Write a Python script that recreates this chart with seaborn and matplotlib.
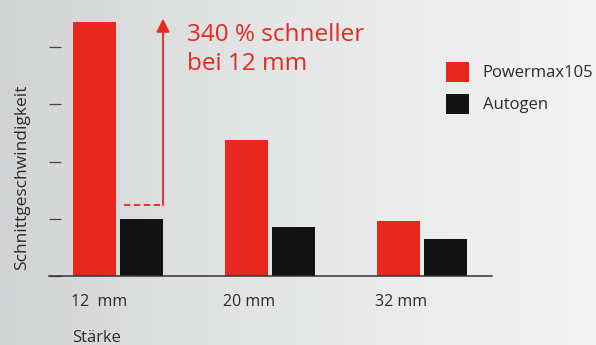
import numpy as np
import pandas as pd
import matplotlib
matplotlib.use("Agg")
import matplotlib.pyplot as plt
import seaborn as sns

# ---- data ----
thickness = ["12  mm", "20 mm", "32 mm"]
series_names = ["Powermax105", "Autogen"]
powermax = [4.45, 2.37, 0.955]
autogen = [1.0, 0.85, 0.645]
y_ticks = [0, 1, 2, 3, 4]
annotation = "340 % schneller\nbei 12 mm"

RED = "#e8271f"
BLACK = "#121212"
TXT = "#2b2b2b"

sns.set_theme(style="white")
plt.rcParams["font.family"] = ["Open Sans", "DejaVu Sans"]

df = pd.DataFrame({
    "Stärke": thickness * 2,
    "Wert": powermax + autogen,
    "Verfahren": [series_names[0]] * 3 + [series_names[1]] * 3,
})

fig = plt.figure(figsize=(5.96, 3.45), dpi=100)

# gradient background
bg = fig.add_axes([0, 0, 1, 1], zorder=0)
grad = np.linspace(0, 1, 256)[None, :]
cmap = matplotlib.colors.LinearSegmentedColormap.from_list("bg", ["#d2d3d4", "#e6e7e7", "#f3f3f3"])
bg.imshow(grad, aspect="auto", cmap=cmap, extent=[0, 1, 0, 1])
bg.axis("off")

ax = fig.add_axes([49 / 596, 69 / 345, 443 / 596, 263 / 345], zorder=1)
ax.set_facecolor("none")

W = 0.613
sns.barplot(data=df, x="Stärke", y="Wert", hue="Verfahren", palette=[RED, BLACK],
            width=W, gap=0.075, linewidth=0, saturation=1, ax=ax, legend=True)

ax.set_xlim(-0.454, 2.462)
ax.set_ylim(0, 4.6)

for s in ["top", "right", "left"]:
    ax.spines[s].set_visible(False)
ax.spines["bottom"].set_color("#333333")
ax.spines["bottom"].set_linewidth(1.1)

ax.set_yticks(y_ticks)
ax.set_yticklabels([])
ax.tick_params(axis="y", direction="in", length=8.5, width=0.9, color="#444444", left=True)

pos = np.arange(len(thickness))
ax.set_xticks(pos - W / 2)
ax.set_xticklabels(thickness, ha="left", fontsize=11.5, color=TXT)
ax.tick_params(axis="x", length=0, pad=13)

ax.set_xlabel("Stärke", fontsize=12, color=TXT, ha="left", va="center")
ax.xaxis.set_label_coords((72 - 49) / 443, (276 - 338) / 263)
ax.set_ylabel("Schnittgeschwindigkeit", fontsize=12.5, color=TXT, ha="center", va="center")
ax.yaxis.set_label_coords((22 - 49) / 443, (276 - 177) / 263)

# legend
handles, labels = ax.get_legend_handles_labels()
ax.legend(handles, labels, loc="upper left", bbox_to_anchor=(446 / 596, 1 - 62 / 345),
          bbox_transform=fig.transFigure, frameon=False, fontsize=12,
          handlelength=1.4, handleheight=1.45, handletextpad=0.8, labelspacing=0.72,
          borderpad=0, borderaxespad=0, labelcolor=TXT)

# annotation arrow + dashed line
ax_x = pos[0] + W / 2 - 0.01
y_dash = autogen[0] + 0.24
ax.plot([pos[0] + 0.037, ax_x], [y_dash, y_dash], color=RED, lw=1.3, ls=(0, (3.5, 2)), zorder=3)
ax.annotate("", xy=(ax_x, powermax[0] + 0.05), xytext=(ax_x, y_dash),
            arrowprops=dict(arrowstyle="-|>", color=RED, lw=1.3, mutation_scale=20,
                            shrinkA=0, shrinkB=0), zorder=3)
ax.text(0.455, 4.42, annotation, color=RED, fontsize=17.5, va="top", ha="left",
        linespacing=1.25, clip_on=False)

fig.savefig("out.png", dpi=100)
